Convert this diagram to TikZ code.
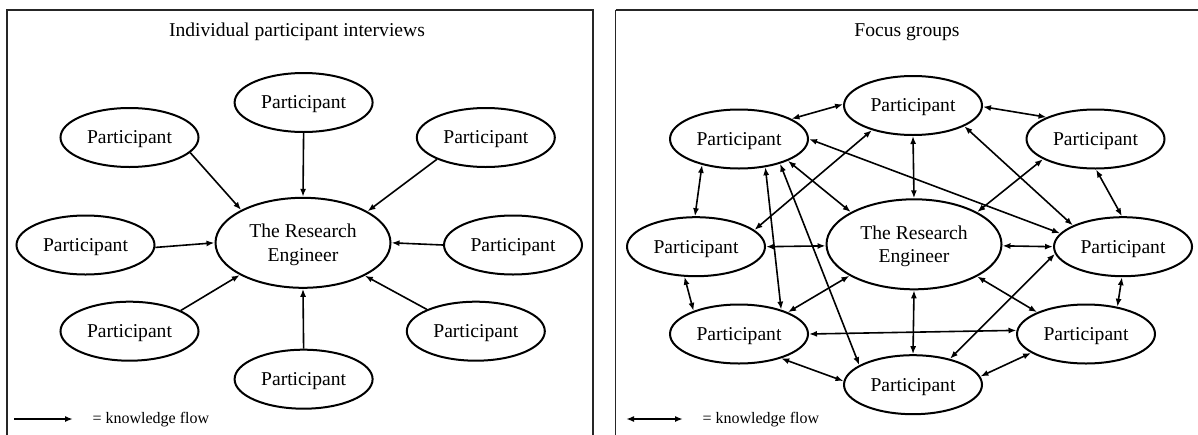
\documentclass[tikz,border=0pt]{standalone}
\usepackage{fontspec}
\setmainfont{Liberation Serif}
\usetikzlibrary{arrows.meta,shapes.geometric}
\begin{document}
\begin{tikzpicture}[x=1pt,y=-1pt,
  part/.style={ellipse,draw,line width=2pt,minimum width=138pt,minimum height=59pt,
    inner sep=0pt,text depth=0pt,font=\fontsize{19.6}{23.5}\selectfont},
  hub/.style={part,minimum width=175pt,minimum height=90pt,align=center},
  tip/.tip={Latex[length=8pt,width=6pt]},
  flow/.style={line width=1.6pt,-tip},
  both/.style={line width=1.6pt,tip-tip},
  frame/.style={line width=1.8pt,black!85},
  heading/.style={anchor=base,font=\fontsize{19.6}{23.5}\selectfont},
  legend/.style={anchor=base west,font=\fontsize{16}{19}\selectfont}]

\fill[white] (0,0) rectangle (1198,434);
\useasboundingbox (0,0) rectangle (1198,434);

% ---------- panel frames ----------
\draw[frame] (7,440) -- (7,10) -- (593.3,10) -- (593.3,440);
\draw[frame,line width=1.1pt] (615.5,440) -- (615.5,10);
\draw[frame] (615.5,10) -- (1210,10);

% ---------- individual interviews ----------
\node[heading] (t1) at (297,36) {Individual participant interviews};
\node[hub]  (c1)  at (303,242.8) {The Research\\Engineer};
\node[part] (a1)  at (303.6,102.5) {Participant};
\node[part] (a2)  at (485.8,137.5) {Participant};
\node[part] (a3)  at (513,245)    {Participant};
\node[part] (a4)  at (475.8,331.2) {Participant};
\node[part] (a5)  at (303.6,379.2) {Participant};
\node[part] (a6)  at (129.5,331.2) {Participant};
\node[part] (a7)  at (85.5,245)   {Participant};
\node[part] (a8)  at (129.5,137.5) {Participant};

\draw[flow] (a1.270)   -- (c1.90);
\draw[flow] (a2.204)   -- (c1.26.4);
\draw[flow] (a3.180)   -- (c1.0.3);
\draw[flow] (a4.156.5) -- (c1.332.8);
\draw[flow] (a5.90)    -- (c1.270);
\draw[flow] (a6.22.9)  -- (c1.207.9);
\draw[flow] (a7.358.6) -- (c1.180.8);
\draw[flow] (a8.346)   -- (c1.152.4);

\coordinate (k1a) at (14,419);
\coordinate (k1b) at (73,419);
\draw[flow,line width=1.9pt] (k1a) -- (k1b);
\node[legend] (k1) at (89,423.5) {= knowledge flow};

% ---------- focus groups ----------
\node[heading] (t2) at (907,36) {Focus groups};
\node[hub]  (c2) at (914,244.3) {The Research\\Engineer};
\node[part] (top) at (913,105.5)  {Participant};
\node[part] (ul)  at (739,139)    {Participant};
\node[part] (ur)  at (1095.5,139) {Participant};
\node[part] (lf)  at (696,246.7)  {Participant};
\node[part] (rt)  at (1123,246.7) {Participant};
\node[part] (ll)  at (739,334)    {Participant};
\node[part] (lr)  at (1086,334)   {Participant};
\node[part] (bot) at (913,384.7)  {Participant};

% ring of neighbours
\draw[both] (ul.21.7)   -- (top.179);
\draw[both] (top.359.5) -- (ur.156.2);
\draw[both] (ul.215)    -- (lf.92);
\draw[both] (lf.249)    -- (ll.153.3);
\draw[both] (ur.271)    -- (rt.92);
\draw[both] (rt.268)    -- (lr.41.8);
\draw[both] (ll.330)    -- (bot.177.5);
\draw[both] (bot.7)     -- (lr.199.7);
% spokes to the research engineer
\draw[both] (top.270)   -- (c2.90);
\draw[both] (c2.270)    -- (bot.90);
\draw[both] (lf.0.5)    -- (c2.181);
\draw[both] (c2.359)    -- (rt.180);
\draw[both] (ul.336.4)  -- (c2.153);
\draw[both] (c2.333.5)  -- (lr.156.2);
\draw[both] (ur.201.7)  -- (c2.27.5);
\draw[both] (ll.24.8)   -- (c2.206.9);
% cross links
\draw[both] (ll.0)      -- (lr.177.6);
\draw[both] (ul.0)      -- (rt.168.4);
\draw[both] (top.338.3) -- (rt.157.9);
\draw[both] (top.211.5) -- (lf.16.3);
\draw[both] (rt.186.6)  -- (bot.35.3);
\draw[both] (ul.313.2)  -- (ll.30);
\draw[both] (ul.329.1)  -- (bot.160);

\coordinate (k2a) at (626,419);
\coordinate (k2b) at (683,419);
\draw[both,line width=1.9pt] (k2a) -- (k2b);
\node[legend] (k2) at (699,423.5) {= knowledge flow};
\end{tikzpicture}
\end{document}
